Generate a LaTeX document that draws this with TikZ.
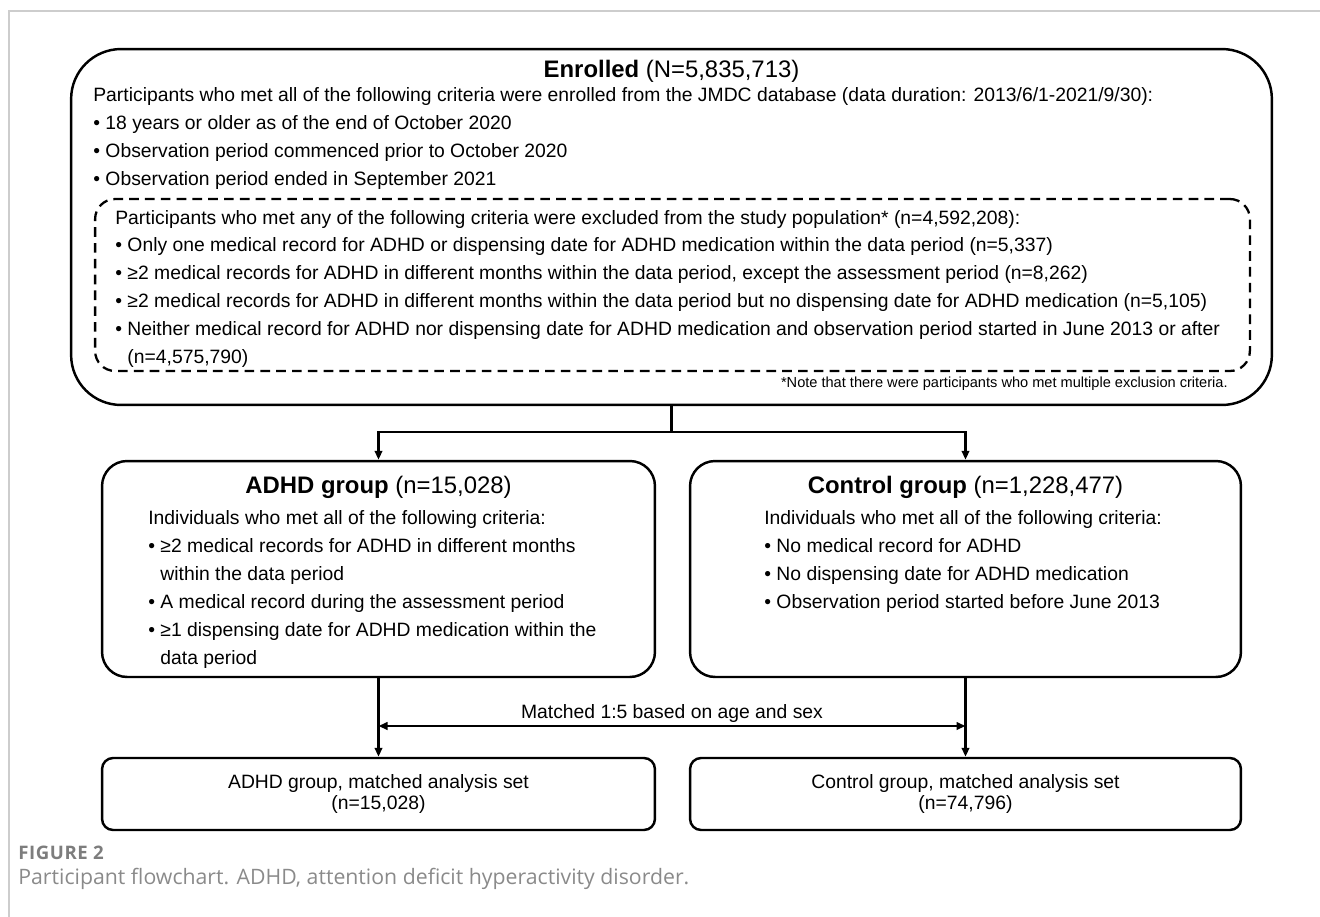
\documentclass[tikz,border=0pt]{standalone}
\usepackage{fontspec}
\setmainfont{Liberation Sans}
\newfontfamily\capfont{Open Sans}
\usepackage{tikz}
\usetikzlibrary{positioning,arrows.meta,calc}
\definecolor{framegray}{RGB}{205,205,205}
\definecolor{capgray}{RGB}{125,125,125}
\newcommand\bodysize{\fontsize{11pt}{12.5pt}\selectfont}
\newcommand\titlesize{\fontsize{13.6pt}{15pt}\selectfont}
\newcommand\notesize{\fontsize{8.3pt}{10pt}\selectfont}
\tikzset{
  stagebox/.style={draw, line width=1.4pt, rounded corners=0.5cm, inner sep=0pt},
  bigbox/.style={stagebox, rounded corners=1cm},
  exclbox/.style={draw, line width=1.3pt, dash pattern=on 5.5pt off 3.5pt,
                  rounded corners=0.4cm, inner sep=0pt},
  setbox/.style={stagebox, rounded corners=0.22cm, align=center, font=\bodysize,
                 minimum height=1.44cm},
  ttl/.style={font=\titlesize, inner sep=0pt},
  crit/.style={anchor=base west, inner sep=0pt, font=\bodysize},
  link/.style={line width=1.3pt},
  flow/.style={link, -{Triangle[length=1.8mm,width=1.5mm]}},
  both/.style={link, {Triangle[length=1.8mm,width=1.5mm]}-{Triangle[length=1.8mm,width=1.5mm]}}
}

\begin{document}
\begin{tikzpicture}[x=0.02cm, y=-0.02cm]
  \useasboundingbox (0,0) rectangle (1320,917);
  \draw[framegray, line width=0.8pt] (9,917) -- (9,11) -- (1320,11);

  % enrolment
  \node[bigbox, minimum width=24.02cm, minimum height=7.12cm] (enrolled) at (671.5,227) {};
  \node[ttl] (enrTitle) at (671.5,71) {\textbf{Enrolled} (N=5,835,713)};
  \foreach \txt [count=\i from 0] in {
      {Participants who met all of the following criteria were enrolled from the JMDC database (data duration: 2013/6/1-2021/9/30):},
      {• 18 years or older as of the end of October 2020},
      {• Observation period commenced prior to October 2020},
      {• Observation period ended in September 2021}}
    \node[crit] (enr\i) at (93,101+28*\i) {\txt};

  \node[exclbox, minimum width=23.1cm, minimum height=3.44cm] (excluded) at (672.5,285) {};
  \foreach \txt [count=\i from 0] in {
      {Participants who met any of the following criteria were excluded from the study population* (n=4,592,208):},
      {• Only one medical record for ADHD or dispensing date for ADHD medication within the data period (n=5,337)},
      {• ≥2 medical records for ADHD in different months within the data period, except the assessment period (n=8,262)},
      {• ≥2 medical records for ADHD in different months within the data period but no dispensing date for ADHD medication (n=5,105)},
      {• Neither medical record for ADHD nor dispensing date for ADHD medication and observation period started in June 2013 or after},
      {\phantom{• }(n=4,575,790)}}
    \node[crit] (exc\i) at (115,224+27.8*\i) {\txt};
  \node[crit, anchor=base east, font=\notesize] (note) at (1228,387) {*Note that there were participants who met multiple exclusion criteria.};

  % groups
  \node[stagebox, minimum width=11.06cm, minimum height=4.32cm] (adhd) at (378.5,569) {};
  \node[ttl] (adhdTitle) at (378.5,487) {\textbf{ADHD group} (n=15,028)};
  \foreach \txt [count=\i from 0] in {
      {Individuals who met all of the following criteria:},
      {• ≥2 medical records for ADHD in different months},
      {\phantom{• }within the data period},
      {• A medical record during the assessment period},
      {• ≥1 dispensing date for ADHD medication within the},
      {\phantom{• }data period}}
    \node[crit] (adhd\i) at (148,524+28*\i) {\txt};

  \node[stagebox, minimum width=11.02cm, minimum height=4.32cm] (control) at (965.5,569) {};
  \node[ttl] (ctrlTitle) at (965.5,487) {\textbf{Control group} (n=1,228,477)};
  \foreach \txt [count=\i from 0] in {
      {Individuals who met all of the following criteria:},
      {• No medical record for ADHD},
      {• No dispensing date for ADHD medication},
      {• Observation period started before June 2013}}
    \node[crit] (ctrl\i) at (764,524+28*\i) {\txt};

  \coordinate (split) at (671.5,432);
  \draw[link] (enrolled.south) -- (split);
  \draw[flow] (split) -| (adhd.north);
  \draw[flow] (split) -| (control.north);

  % matched sets
  \node[setbox, minimum width=11.06cm] (adhdSet) at (378.5,794) {ADHD group, matched analysis set\\(n=15,028)};
  \node[setbox, minimum width=11.02cm] (ctrlSet) at (965.5,794) {Control group, matched analysis set\\(n=74,796)};
  \draw[flow] (adhd.south) -- (adhdSet.north);
  \draw[flow] (control.south) -- (ctrlSet.north);
  \coordinate (matchL) at (378.5,726);
  \coordinate (matchR) at (965.5,726);
  \draw[both] (matchL) -- node[above=1.5pt, font=\bodysize, inner sep=0pt] (matchLbl) {Matched 1:5 based on age and sex} (matchR);

  \node[anchor=base west, inner sep=0pt, text=capgray, font=\capfont\addfontfeatures{LetterSpace=3}\bfseries\fontsize{10.6pt}{11pt}\selectfont] (figLabel) at (18,859) {FIGURE 2};
  \node[anchor=base west, inner sep=0pt, text=capgray!90, font=\capfont\fontsize{12.1pt}{13pt}\selectfont] (caption) at (18,884) {Participant flowchart. ADHD, attention deficit hyperactivity disorder.};
\end{tikzpicture}
\end{document}
